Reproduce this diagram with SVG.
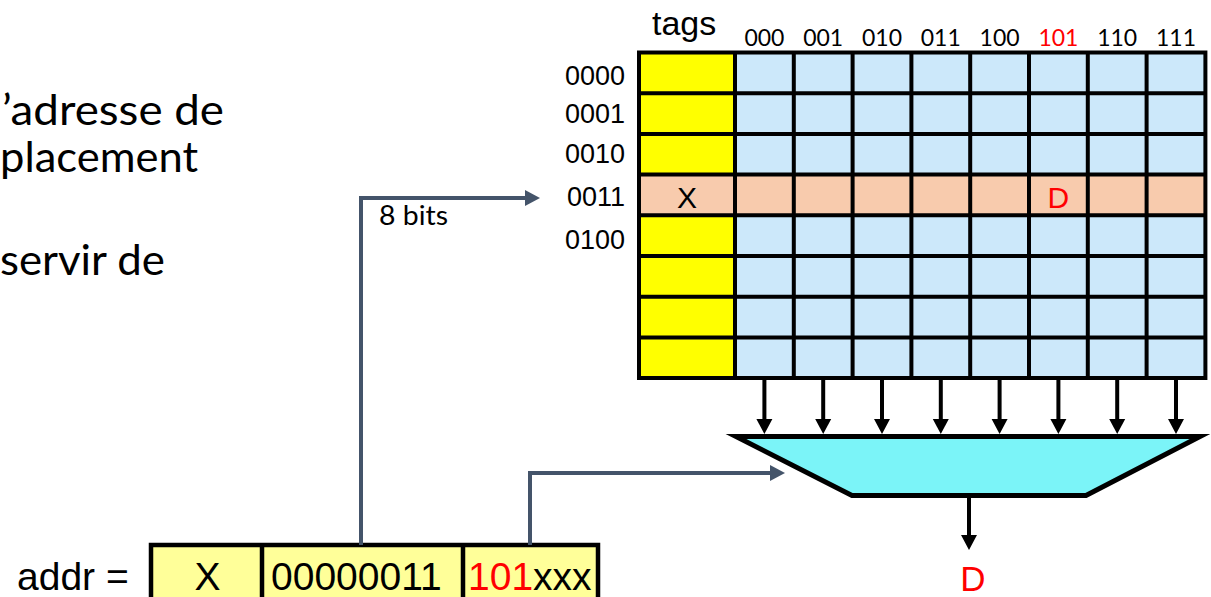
<svg xmlns="http://www.w3.org/2000/svg" width="1211" height="597" viewBox="0 0 1211 597">
<style>
.cal{font-family:Lato,"Liberation Sans",sans-serif;fill:#000}
.ari{font-family:"Liberation Sans",Arial,sans-serif;fill:#000}
.red{fill:#FF0000}
.blue{fill:#CCE8FA}
.tag{fill:#FFFF00}
.hit{fill:#F8CBAD}
.gl{stroke:#000;stroke-width:4;fill:none}
.blk{stroke:#000;stroke-width:4;fill:none}
.gry{stroke:#44546A;stroke-width:4;fill:none}
</style>
<defs>
<marker id="ab" markerUnits="userSpaceOnUse" markerWidth="16" markerHeight="16" viewBox="0 0 16 16" refX="7" refY="8" orient="auto" overflow="visible">
<path d="M0,0 L15,8 L0,16 z" fill="#000"/>
</marker>
<marker id="ag" markerUnits="userSpaceOnUse" markerWidth="16" markerHeight="16" viewBox="0 0 16 16" refX="7" refY="8" orient="auto" overflow="visible">
<path d="M0,0 L15,8 L0,16 z" fill="#44546A"/>
</marker>
</defs>
<rect width="1211" height="597" fill="#fff"/>

<g id="text-left">
<text class="cal" x="2" y="125" font-size="42" textLength="222" lengthAdjust="spacingAndGlyphs">’adresse de</text>
<text class="cal" x="0" y="172" font-size="42" textLength="198" lengthAdjust="spacingAndGlyphs">placement</text>
<text class="cal" x="0" y="275" font-size="42" textLength="165" lengthAdjust="spacingAndGlyphs">servir de</text>
</g>

<g id="cache">
<text class="ari" x="652" y="35" font-size="34">tags</text>
<g class="cal" font-size="23" text-anchor="middle">
<text x="764.4" y="46">000</text>
<text x="823.2" y="46">001</text>
<text x="882" y="46">010</text>
<text x="940.8" y="46">011</text>
<text x="999.6" y="46">100</text>
<text x="1058.4" y="46" class="red">101</text>
<text x="1117.2" y="46">110</text>
<text x="1176" y="46">111</text>
</g>
<g class="ari" font-size="27" text-anchor="end">
<text x="625" y="85">0000</text>
<text x="625" y="123">0001</text>
<text x="625" y="163">0010</text>
<text x="625" y="206">0011</text>
<text x="625" y="249">0100</text>
</g>
<rect class="tag" x="639" y="52.5" width="96" height="325.6"/>
<rect class="blue" x="735" y="52.5" width="470.4" height="325.6"/>
<rect class="hit" x="639" y="174.6" width="566.4" height="40.7"/>
<path class="gl" d="M639,52.5 H1205.4 V378.1 H639 Z M735,52.5 V378.1 M793.8,52.5 V378.1 M852.6,52.5 V378.1 M911.4,52.5 V378.1 M970.2,52.5 V378.1 M1029,52.5 V378.1 M1087.8,52.5 V378.1 M1146.6,52.5 V378.1 M639,93.2 H1205.4 M639,133.9 H1205.4 M639,174.6 H1205.4 M639,215.3 H1205.4 M639,256 H1205.4 M639,296.7 H1205.4 M639,337.4 H1205.4" stroke-linecap="square"/>
<text class="ari" x="687" y="208" font-size="30" text-anchor="middle">X</text>
<text class="ari red" x="1058.4" y="208" font-size="30" text-anchor="middle">D</text>
</g>

<g id="mux">
<polygon points="736,436.5 1200,436.5 1086,495.5 852,495.5" fill="#7BF4F8" stroke="#000" stroke-width="5" stroke-miterlimit="10"/>
</g>

<g id="addr">
<text class="ari" x="17" y="590" font-size="39">addr =</text>
<rect x="151" y="545" width="447" height="60" fill="#FFFF99" stroke="#000" stroke-width="4.5"/>
<path d="M262,545 V600 M463,545 V600" stroke="#000" stroke-width="4.5"/>
<text class="ari" x="207.5" y="590" font-size="39" text-anchor="middle">X</text>
<text class="ari" x="271" y="590" font-size="39">00000011</text>
<text class="ari" x="468" y="590" font-size="39"><tspan class="red">101</tspan>xxx</text>
</g>

<g id="output">
<text class="ari red" x="973" y="591" font-size="35" text-anchor="middle">D</text>
</g>

<g id="connectors">
<g class="blk" marker-end="url(#ab)">
<path d="M764.4,380 V426"/>
<path d="M823.2,380 V426"/>
<path d="M882,380 V426"/>
<path d="M940.8,380 V426"/>
<path d="M999.6,380 V426"/>
<path d="M1058.4,380 V426"/>
<path d="M1117.2,380 V426"/>
<path d="M1176,380 V426"/>
<path d="M969,497 V542"/>
</g>
<path class="gry" d="M361,545 V198 H532" marker-end="url(#ag)"/>
<path class="gry" d="M530,545 V473 H777" marker-end="url(#ag)"/>
<text class="cal" x="379" y="225" font-size="26" textLength="69" lengthAdjust="spacingAndGlyphs">8 bits</text>
</g>
</svg>
